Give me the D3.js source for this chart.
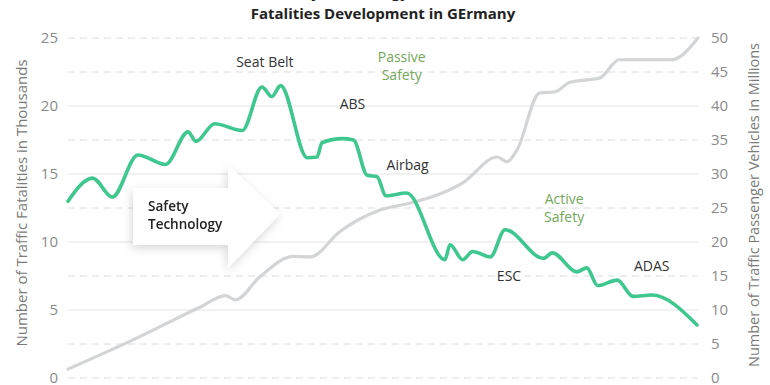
<!DOCTYPE html>
<html>
<head>
<meta charset="utf-8">
<script src="https://cdn.jsdelivr.net/npm/d3@7"></script>
<style>
  body { margin: 0; background: #fff; }
  #chart { width: 770px; height: 385px; overflow: hidden; }
  text { font-family: "Open Sans", "Noto Sans", sans-serif; }
</style>
</head>
<body>
<div id="chart"></div>
<script>
// Fatalities (thousands) and passenger vehicles (millions)
const fatalYears = [1953, 1955.5, 1957.5, 1960.1, 1962.9, 1965.2, 1966, 1967.9, 1970.7, 1972.7, 1973.7, 1974.6,
    1977.3, 1978.3, 1978.8, 1980.9, 1982, 1983.4, 1984.4, 1985.3, 1987.4, 1991.3, 1991.8, 1993.1, 1994.1,
    1995.9, 1997.4, 2001.3, 2002.2, 2004.7, 2005.7, 2006.8, 2008.8, 2010.4, 2012.3, 2016.9];
const fatalities = [13.0, 14.7, 13.3, 16.4, 15.7, 18.1, 17.4, 18.7, 18.2, 21.4, 20.7, 21.5,
    16.2, 16.25, 17.3, 17.6, 17.5, 14.9, 14.8, 13.4, 13.6, 8.7, 9.8, 8.7, 9.3,
    8.9, 10.9, 8.8, 9.2, 7.8, 8.1, 6.8, 7.2, 6.0, 6.1, 3.9];

const vehicleYears = [1953, 1959.6, 1966.4, 1969, 1970, 1972.5, 1975.9, 1977.6, 1980.6, 1982.4, 1984.7,
    1987.7, 1990.5, 1993.1, 1996.6, 1997.6, 1998.6, 2000.9, 2002.5, 2004, 2005.5, 2007, 2009,
    2014.3, 2017];
const vehicles = [1.3, 5.6, 10.4, 12.1, 11.5, 14.9, 17.9, 17.8, 21.5, 23.2, 24.7,
    25.7, 26.9, 28.7, 32.5, 31.8, 33.5, 41.9, 42.1, 43.5, 43.8, 44.1, 46.8,
    46.8, 50];

const leftTicks = [0, 5, 10, 15, 20, 25];
const rightTicks = [0, 5, 10, 15, 20, 25, 30, 35, 40, 45, 50];

const annotations = [
    { text: "Seat Belt", year: 1973, value: 22.9 },
    { text: "ABS", year: 1981.9, value: 19.8 },
    { text: "Airbag", year: 1987.5, value: 15.3 },
    { text: "ESC", year: 1997.8, value: 7.1 },
    { text: "ADAS", year: 2012.3, value: 7.9 }
];
const groupLabels = [
    { lines: ["Passive", "Safety"], year: 1986.9, value: 23.2 },
    { lines: ["Active", "Safety"], year: 2003.4, value: 12.8 }
];

const width = 770, height = 385;
const margin = { top: 38, right: 72, bottom: 7, left: 68 };

const svg = d3.select("#chart").append("svg")
    .attr("width", width)
    .attr("height", height);

const x = d3.scaleLinear().domain([1953, 2017]).range([margin.left, width - margin.right]);
const yLeft = d3.scaleLinear().domain([0, 25]).range([height - margin.bottom, margin.top]);
const yRight = d3.scaleLinear().domain([0, 50]).range([height - margin.bottom, margin.top]);

const defs = svg.append("defs");
const shadow = defs.append("filter").attr("id", "shadow")
    .attr("x", "-30%").attr("y", "-30%").attr("width", "160%").attr("height", "160%");
shadow.append("feDropShadow")
    .attr("dx", -1).attr("dy", 3)
    .attr("stdDeviation", 5)
    .attr("flood-color", "#000")
    .attr("flood-opacity", 0.16);

// Title (first line is cut off at the top)
svg.append("text")
    .attr("x", 383).attr("y", -2)
    .attr("text-anchor", "middle")
    .style("font-size", "15px").style("font-weight", "700").style("fill", "#222")
    .text("Safety Technology and Traffic");
svg.append("text")
    .attr("x", 383).attr("y", 19)
    .attr("text-anchor", "middle")
    .style("font-size", "15px").style("font-weight", "700").style("fill", "#222")
    .text("Fatalities Development in GErmany");

// Gridlines
const solid = d => d % 10 === 0 && d > 0 && d < 50;
svg.append("g").selectAll("line")
    .data(rightTicks)
    .enter().append("line")
    .attr("x1", margin.left)
    .attr("x2", width - margin.right)
    .attr("y1", d => yRight(d))
    .attr("y2", d => yRight(d))
    .style("stroke", d => solid(d) ? "#e4e4e4" : "#dcdcdc")
    .style("stroke-width", 1)
    .style("stroke-dasharray", d => solid(d) ? null : "7,5");

// Axes
const leftAxis = svg.append("g")
    .attr("transform", `translate(${margin.left - 10},0)`)
    .call(d3.axisLeft(yLeft).tickValues(leftTicks).tickSize(0).tickPadding(0));
const rightAxis = svg.append("g")
    .attr("transform", `translate(${width - margin.right + 13},0)`)
    .call(d3.axisRight(yRight).tickValues(rightTicks).tickSize(0).tickPadding(0));
[leftAxis, rightAxis].forEach(a => {
    a.select(".domain").remove();
    a.selectAll("text")
        .attr("dy", "0.28em")
        .style("font-family", "'Open Sans', sans-serif")
        .style("font-size", "15px")
        .style("fill", "#8a8a8a");
});

svg.append("text")
    .attr("transform", `translate(27,203) rotate(-90)`)
    .attr("text-anchor", "middle")
    .style("font-size", "15px").style("fill", "#7a7a7a")
    .text("Number of Traffic Fatalities in Thousands");
svg.append("text")
    .attr("transform", `translate(759,205) rotate(-90)`)
    .attr("text-anchor", "middle")
    .style("font-size", "14.5px").style("fill", "#7a7a7a")
    .text("Number of Traffic Passenger Vehicles in Millions");

// Vehicles line
const vehicleLine = d3.line()
    .x(d => x(d[0]))
    .y(d => yRight(d[1]))
    .curve(d3.curveMonotoneX);
svg.append("path")
    .datum(d3.zip(vehicleYears, vehicles))
    .attr("d", vehicleLine)
    .style("fill", "none")
    .style("stroke", "#d2d4d6")
    .style("stroke-width", 3.2)
    .style("stroke-linejoin", "round")
    .style("stroke-linecap", "round");

// Safety Technology arrow (decoration)
const arrow = svg.append("g").attr("filter", "url(#shadow)");
arrow.append("path")
    .attr("d", "M133,188 L228,188 L228,165 L280,214 L228,268 L228,245 L133,245 Z")
    .style("fill", "#fff");
arrow.append("text")
    .attr("x", 148).attr("y", 211)
    .style("font-size", "13.5px").style("font-weight", "600").style("fill", "#222")
    .text("Safety");
arrow.append("text")
    .attr("x", 148).attr("y", 229)
    .style("font-size", "13.5px").style("font-weight", "600").style("fill", "#222")
    .text("Technology");

// Fatalities line
const fatalLine = d3.line()
    .x(d => x(d[0]))
    .y(d => yLeft(d[1]))
    .curve(d3.curveMonotoneX);
svg.append("path")
    .datum(d3.zip(fatalYears, fatalities))
    .attr("d", fatalLine)
    .style("fill", "none")
    .style("stroke", "#3ec78f")
    .style("stroke-width", 3.6)
    .style("stroke-linejoin", "round")
    .style("stroke-linecap", "round");

// Annotations
svg.append("g").selectAll("text")
    .data(annotations)
    .enter().append("text")
    .attr("x", d => x(d.year))
    .attr("y", d => yLeft(d.value))
    .attr("text-anchor", "middle")
    .style("font-size", "14px")
    .style("fill", "#333")
    .text(d => d.text);

groupLabels.forEach(g => {
    g.lines.forEach((line, i) => {
        svg.append("text")
            .attr("x", x(g.year))
            .attr("y", yLeft(g.value) + i * 18)
            .attr("text-anchor", "middle")
            .style("font-size", "14px")
            .style("fill", "#72a85a")
            .text(line);
    });
});
</script>
</body>
</html>
